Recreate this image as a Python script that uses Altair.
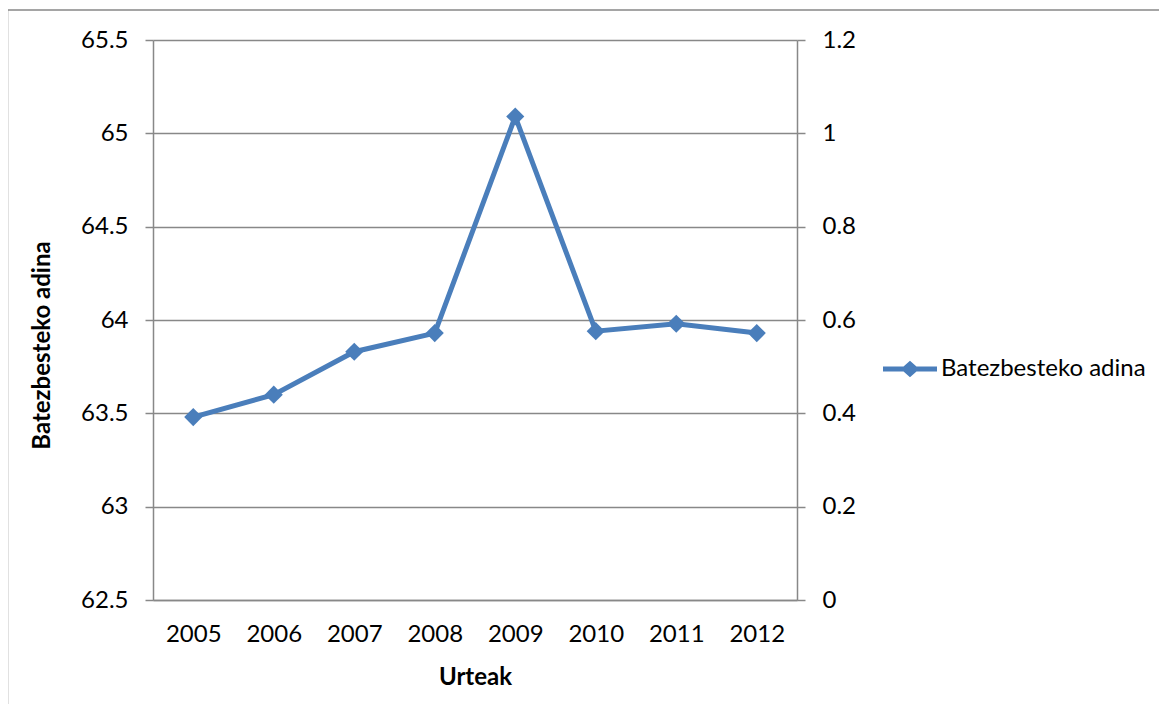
import altair as alt
import pandas as pd

years = ["2005", "2006", "2007", "2008", "2009", "2010", "2011", "2012"]
mean_age = [63.48, 63.60, 63.83, 63.93, 65.09, 63.94, 63.98, 63.93]
series_name = "Batezbesteko adina"
left_ticks = [62.5, 63, 63.5, 64, 64.5, 65, 65.5]
right_ticks = [0, 0.2, 0.4, 0.6, 0.8, 1, 1.2]

df = pd.DataFrame({"year": years, "age": mean_age, "serie": [series_name] * len(years)})
right_df = pd.DataFrame({"v": [right_ticks[0], right_ticks[-1]]})

BLUE = "#4a7ebb"
GRAY = "#888888"
FONT = "Lato"
FS = 24

legend_path = ("M-1,-0.09L-0.24,-0.09L0,-0.31L0.24,-0.09L1,-0.09L1,0.09"
               "L0.24,0.09L0,0.31L-0.24,0.09L-1,0.09Z")

x_enc = alt.X("year:O", scale=alt.Scale(padding=0.5),
              axis=alt.Axis(title="Urteak", labelAngle=0, ticks=False, labelPadding=22,
                            domainColor=GRAY, domainWidth=1.5, titleFontWeight="bold",
                            titleX=322, titleY=77, titleBaseline="middle"))

y_scale = alt.Scale(domain=[left_ticks[0], left_ticks[-1]], nice=False, zero=False)

line = alt.Chart(df).mark_line(color=BLUE, strokeWidth=5).encode(
    x=x_enc,
    y=alt.Y("age:Q", scale=y_scale,
            axis=alt.Axis(title="Batezbesteko adina", orient="left", values=left_ticks,
                          format="~g", grid=True, gridColor=GRAY, gridWidth=1.5,
                          tickSize=8, tickColor=GRAY, tickWidth=1.5,
                          domainColor=GRAY, domainWidth=1.5, labelPadding=17,
                          titleFontWeight="bold", titleAngle=-90, titleX=-111, titleY=305,
                          titleAlign="center", titleBaseline="middle")),
)

points = alt.Chart(df).mark_point(filled=True, opacity=1, shape="diamond", size=330).encode(
    x="year:O",
    y=alt.Y("age:Q", scale=y_scale),
    color=alt.Color("serie:N", scale=alt.Scale(range=[BLUE]),
                    legend=alt.Legend(orient="none", legendX=730, legendY=302, title=None,
                                      symbolType=legend_path, symbolSize=2916,
                                      symbolFillColor=BLUE, symbolStrokeWidth=0,
                                      labelFontSize=FS, labelFont=FONT, labelOffset=4,
                                      labelLimit=400, padding=0)),
)

border = alt.Chart(alt.Data(values=[{}])).mark_rect(
    fill="white", fillOpacity=0, stroke=GRAY, strokeWidth=1.5
).encode(x=alt.value(-145.5), x2=alt.value(1019), y=alt.value(-30), y2=alt.value(700))

left = alt.layer(border, line, points)

right = alt.Chart(right_df).mark_point(opacity=0).encode(
    y=alt.Y("v:Q", scale=alt.Scale(domain=[right_ticks[0], right_ticks[-1]], nice=False),
            axis=alt.Axis(title=None, orient="right", values=right_ticks, format="~g",
                          grid=False, tickSize=8, tickColor=GRAY, tickWidth=1.5,
                          domainColor=GRAY, domainWidth=1.5, labelPadding=17))
)

chart = alt.layer(left, right).resolve_scale(y="independent").properties(
    width=644, height=560,
    autosize=alt.AutoSizeParams(type="none"),
    padding={"left": 145, "top": 32, "right": 362, "bottom": 104},
    background="white",
).configure_view(strokeWidth=0).configure_axis(
    labelFont=FONT, labelFontSize=FS, labelColor="#000000",
    titleFont=FONT, titleFontSize=24, titleColor="#000000",
).configure_legend(labelColor="#000000")

chart.save("out.html", embed_options={"renderer": "svg", "actions": False})
